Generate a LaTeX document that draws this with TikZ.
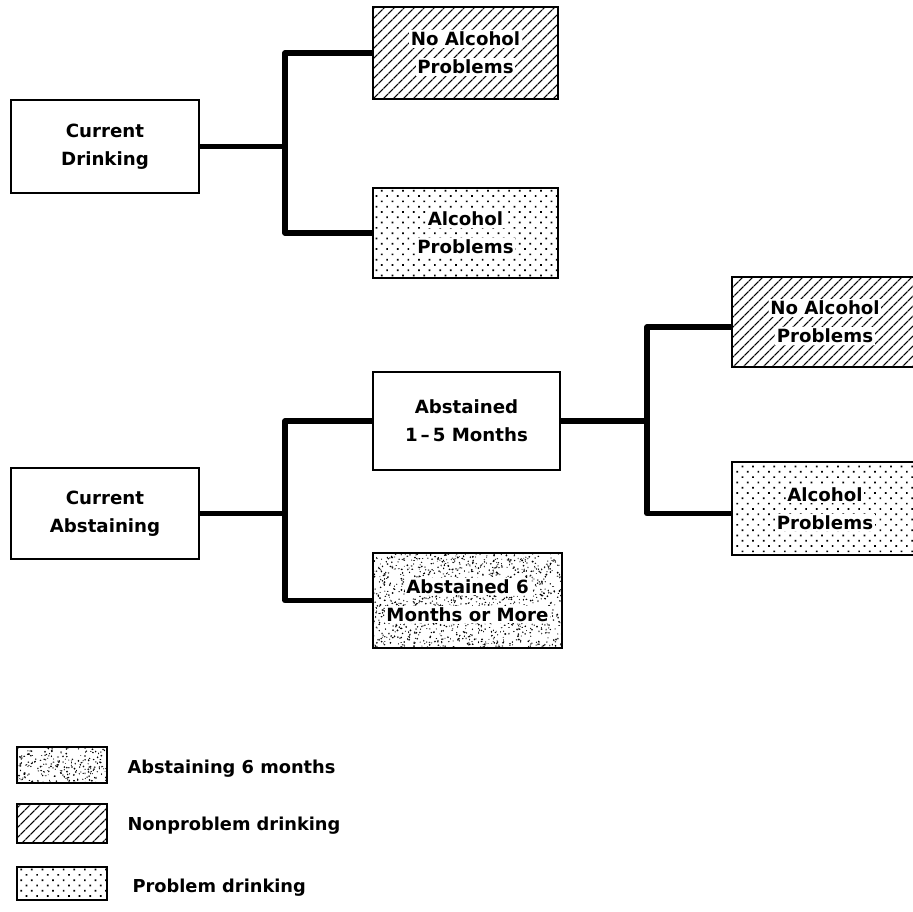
\documentclass[tikz,border=0pt]{standalone}
\usepackage{fontspec}
\setmainfont{DejaVu Sans}
\usetikzlibrary{patterns.meta}
\newcommand{\wbg}[1]{{\setlength{\fboxsep}{1.5pt}\colorbox{white}{#1}}}
\newcommand{\stipple}[5]{%
  \begin{scope}
    \clip (#1,#2) rectangle (#3,#4);
    \foreach \i in {1,...,#5}{%
      \pgfmathsetmacro\px{#1+(#3-#1)*rnd}%
      \pgfmathsetmacro\py{#2+(#4-#2)*rnd}%
      \pgfmathsetmacro\pr{0.4+0.7*rnd}%
      \pgfmathsetmacro\pq{0.4+0.7*rnd}%
      \fill (\px,\py) ellipse [x radius=\pr pt, y radius=\pq pt];
    }
  \end{scope}}
\begin{document}
\begin{tikzpicture}[x=1pt,y=-1pt,
  box/.style={draw, line width=2pt, align=center, inner sep=0pt,
    font=\fontsize{18.2}{28}\selectfont\bfseries},
  hatchbox/.style={box, line width=2.8pt,
    pattern={Lines[angle=45,distance=7.4pt,line width=1.4pt]}},
  dotbox/.style={box, line width=2.8pt,
    pattern={Dots[angle=45,distance=7.5pt,radius=1.2pt]}},
  stipbox/.style={box, line width=2.8pt},
  conn/.style={line width=5.5pt, line join=round},
  legtext/.style={anchor=base west, font=\fontsize{17.8}{24}\selectfont\bfseries}
]
\useasboundingbox (0,0) rectangle (913,912);
\clip (0,0) rectangle (913,912);

% upper tree
\node[box, minimum width=188pt, minimum height=93pt] (CD) at (105,146.5) {Current\\Drinking};
\node[hatchbox, minimum width=185pt, minimum height=92pt] (NA1) at (465.5,53) {\wbg{No Alcohol}\\\wbg{Problems}};
\node[dotbox, minimum width=185pt, minimum height=90pt] (AP1) at (465.5,233) {\wbg{Alcohol}\\\wbg{Problems}};
\coordinate (j1) at (285,146.5);
\draw[conn] (CD.east) -- (j1);
\draw[conn] (NA1.west) -| (j1) |- (AP1.west);

% lower tree
\node[box, minimum width=188pt, minimum height=91pt] (CA) at (105,513.5) {Current\\Abstaining};
\node[box, minimum width=187pt, minimum height=98pt] (A15) at (466.5,421) {Abstained\\1\,--\,5 Months};
\pgfmathsetseed{7}
\stipple{373}{553}{562}{648}{1300}
\node[stipbox, minimum width=189pt, minimum height=95pt] (A6) at (467.5,600.5) {\wbg{Abstained 6}\\\wbg{Months or More}};
\coordinate (j2) at (285,513.5);
\draw[conn] (CA.east) -- (j2);
\draw[conn] (A15.west) -| (j2) |- (A6.west);

\node[hatchbox, minimum width=186pt, minimum height=90pt] (NA2) at (825,322) {\wbg{No Alcohol}\\\wbg{Problems}};
\node[dotbox, minimum width=186pt, minimum height=93pt] (AP2) at (825,508.5) {\wbg{Alcohol}\\\wbg{Problems}};
\coordinate (j3) at (647,421);
\draw[conn] (A15.east) -- (j3);
\draw[conn] ([yshift=-5pt]NA2.west) -| (j3) |- ([yshift=-5pt]AP2.west);

% legend
\stipple{17}{747}{107}{783}{240}
\node[stipbox, minimum width=90pt, minimum height=36pt] (L1) at (62,765) {};
\node[hatchbox, minimum width=90pt, minimum height=39pt] (L2) at (62,823.5) {};
\node[dotbox, minimum width=90pt, minimum height=33pt] (L3) at (62,883.5) {};
\node[legtext] (L1t) at (124,773) {Abstaining 6 months};
\node[legtext] (L2t) at (124,830) {Nonproblem drinking};
\node[legtext] (L3t) at (129,892) {Problem drinking};
\end{tikzpicture}
\end{document}
